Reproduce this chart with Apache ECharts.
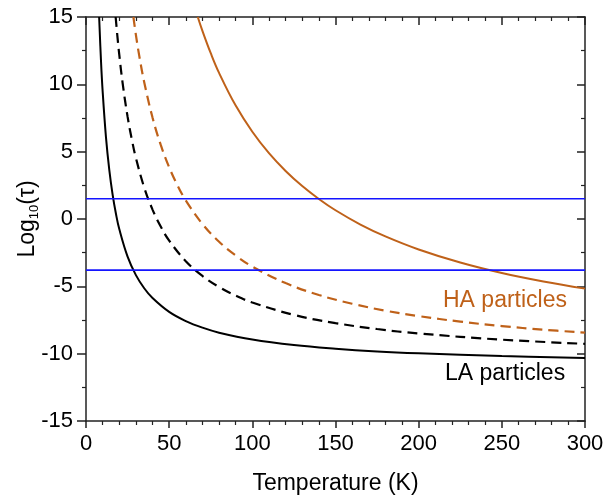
<!DOCTYPE html>
<html>
<head>
<meta charset="utf-8">
<script src="https://cdn.jsdelivr.net/npm/echarts@6/dist/echarts.min.js"></script>
<style>html,body{margin:0;padding:0;background:#fff}#c{width:605px;height:500px}</style>
</head>
<body>
<div id="c"></div>
<script>
// LA particles, solid (black)
const laSolidT   = [7.9, 9, 10, 12, 14, 16, 18, 20, 25, 30, 35, 40, 50, 60, 70, 80, 100, 125, 150, 175, 200, 250, 300];
const laSolidLog = [15.0, 11.78, 9.5, 6.08, 3.64, 1.81, 0.39, -0.75, -2.8, -4.17, -5.14, -5.87, -6.9, -7.58, -8.07, -8.44, -8.95, -9.36, -9.63, -9.83, -9.97, -10.18, -10.32];
// LA particles, dashed (black)
const laDashT    = [17.83, 19, 20, 22, 25, 28, 30, 35, 40, 45, 50, 60, 70, 80, 90, 100, 125, 150, 175, 200, 250, 300];
const laDashLog  = [15.0, 13.41, 12.2, 10.11, 7.6, 5.63, 4.53, 2.34, 0.7, -0.58, -1.6, -3.13, -4.23, -5.05, -5.69, -6.2, -7.12, -7.73, -8.17, -8.5, -8.96, -9.27];
// HA particles, dashed (orange)
const haDashT    = [28.5, 30, 32, 35, 40, 45, 50, 55, 60, 70, 80, 90, 100, 120, 140, 160, 180, 200, 225, 250, 275, 300];
const haDashLog  = [15.0, 13.67, 12.13, 10.16, 7.53, 5.48, 3.84, 2.5, 1.38, -0.37, -1.69, -2.71, -3.53, -4.76, -5.64, -6.29, -6.81, -7.21, -7.62, -7.95, -8.22, -8.44];
// HA particles, solid (orange)
const haSolidT   = [67.2, 70, 75, 80, 90, 100, 110, 120, 130, 140, 150, 165, 180, 200, 225, 250, 275, 300];
const haSolidLog = [15.0, 13.97, 12.31, 10.85, 8.42, 6.48, 4.89, 3.57, 2.45, 1.49, 0.65, -0.41, -1.29, -2.26, -3.23, -4.01, -4.64, -5.17];
// horizontal reference levels (blue)
const refLevels  = [1.5, -3.8];
const xRange     = [0, 300];
const yRange     = [-15, 15];

const zip = (a, b) => a.map((v, i) => [v, b[i]]);
const ORANGE = '#bf6119';
const FONT = 'Liberation Sans, Arial, sans-serif';
const axisLineStyle = { color: '#222', width: 1.5 };

const chart = echarts.init(document.getElementById('c'));
const curve = (name, t, v, color, dashed) => ({
  name, type: 'line', data: zip(t, v), showSymbol: false, smooth: 0.4,
  lineStyle: { color, width: dashed ? 2.2 : 2, type: dashed ? [10, 6] : 'solid' }, z: 3, silent: true
});
const series = [
  curve('LA solid', laSolidT, laSolidLog, '#000', false),
  curve('LA dashed', laDashT, laDashLog, '#000', true),
  curve('HA dashed', haDashT, haDashLog, ORANGE, true),
  curve('HA solid', haSolidT, haSolidLog, ORANGE, false)
];
refLevels.forEach((lv, i) => series.push({
  name: 'ref' + i, type: 'line', data: [[xRange[0], lv], [xRange[1], lv]], showSymbol: false,
  lineStyle: { color: '#1414ff', width: 1.6 }, z: 4, silent: true
}));

chart.setOption({
  animation: false,
  backgroundColor: '#fff',
  grid: { left: 86, right: 20, top: 17, bottom: 79, outerBoundsMode: 'none' },
  xAxis: [
    { type: 'value', min: xRange[0], max: xRange[1], interval: 50, position: 'bottom',
      name: 'Temperature (K)', nameLocation: 'middle', nameGap: 51, nameMoveOverlap: false,
      nameTextStyle: { fontFamily: FONT, fontSize: 23, color: '#000' },
      axisLine: { show: true, onZero: false, lineStyle: axisLineStyle },
      axisTick: { show: true, inside: false, length: 7, lineStyle: axisLineStyle },
      minorTick: { show: true, splitNumber: 5, length: 4, lineStyle: { color: '#222', width: 1.2 } },
      axisLabel: { fontFamily: FONT, fontSize: 22, color: '#000', margin: 12 },
      splitLine: { show: false } },
    { type: 'value', min: xRange[0], max: xRange[1], interval: 50, position: 'top',
      axisLine: { show: true, onZero: false, lineStyle: axisLineStyle },
      axisTick: { show: true, inside: true, length: 8, lineStyle: axisLineStyle },
      minorTick: { show: true, splitNumber: 5, length: 4, lineStyle: { color: '#222', width: 1.2 } },
      axisLabel: { show: false }, splitLine: { show: false } }
  ],
  yAxis: [
    { type: 'value', min: yRange[0], max: yRange[1], interval: 5, position: 'left',
      name: '{n|Log}{s|10}{n|(τ)}', nameLocation: 'middle', nameGap: 45, nameRotate: 90, nameMoveOverlap: false,
      nameTextStyle: { fontFamily: FONT, fontSize: 23, color: '#000',
        rich: { n: { fontFamily: FONT, fontSize: 23, color: '#000' },
                s: { fontFamily: FONT, fontSize: 13, color: '#000', padding: [14, 0, 0, 0] } } },
      axisLine: { show: true, onZero: false, lineStyle: axisLineStyle },
      axisTick: { show: true, inside: false, length: 9, lineStyle: axisLineStyle },
      minorTick: { show: true, splitNumber: 2, length: 4, lineStyle: { color: '#222', width: 1.2 } },
      axisLabel: { fontFamily: FONT, fontSize: 22, color: '#000', margin: 13 },
      splitLine: { show: false } },
    { type: 'value', min: yRange[0], max: yRange[1], interval: 5, position: 'right',
      axisLine: { show: true, onZero: false, lineStyle: axisLineStyle },
      axisTick: { show: true, inside: true, length: 8, lineStyle: axisLineStyle },
      minorTick: { show: true, splitNumber: 2, length: 4, lineStyle: { color: '#222', width: 1.2 } },
      axisLabel: { show: false }, splitLine: { show: false } }
  ],
  graphic: [
    { type: 'text', left: 443, top: 289, style: { text: 'HA particles', fontFamily: FONT, fontSize: 23, fill: ORANGE } },
    { type: 'text', left: 445, top: 362, style: { text: 'LA particles', fontFamily: FONT, fontSize: 23, fill: '#000' } }
  ],
  series
});
</script>
</body>
</html>
